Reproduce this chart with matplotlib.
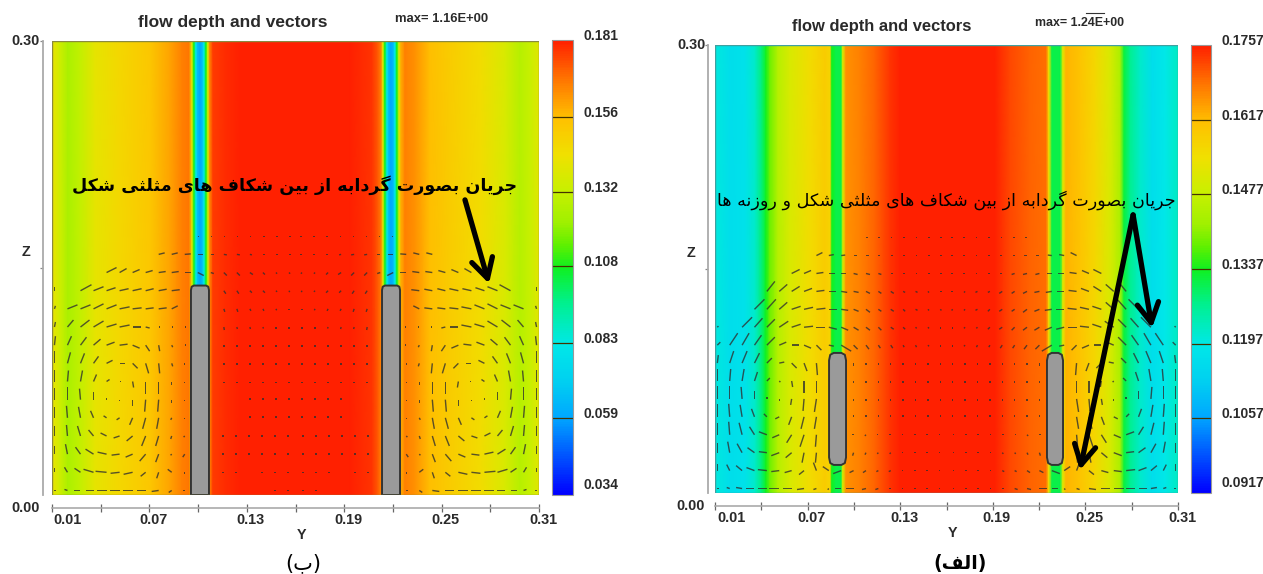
import numpy as np
import matplotlib
matplotlib.use('Agg')
import matplotlib.pyplot as plt
from matplotlib.colors import LinearSegmentedColormap
from matplotlib.patches import Polygon, Rectangle

W_PX, H_PX = 1263, 574

TITLE = 'flow depth and vectors'
X_TICKS = [0.01, 0.04, 0.07, 0.10, 0.13, 0.16, 0.19, 0.22, 0.25, 0.28, 0.31]
X_LABELS = ['0.01', '0.07', '0.13', '0.19', '0.25', '0.31']
X_LABEL_AT = [0.01, 0.07, 0.13, 0.19, 0.25, 0.31]

# depth across the channel (same at every Z)
B_Y = [.0100, .0149, .0199, .0272, .0365, .0519, .0704, .0827, .0901, .0944, .0962, .0975, .0987, .0999,
       .1012, .1024, .1036, .1049, .1061, .1073, .1092, .1166, .1258, .1936, .2071, .2108, .2127, .2139,
       .2151, .2164, .2176, .2188, .2201, .2213, .2225, .2238, .2250, .2275, .2336, .2428, .2552, .2737,
       .2891, .2983, .3045, .3100]
B_DEPTH = [.1428, .1340, .1251, .1310, .1413, .1472, .1531, .1604, .1663, .1678, .1398, .1075, .0825, .0634,
           .0590, .0634, .0825, .1075, .1369, .1663, .1766, .1788, .1810, .1810, .1781, .1722, .1663, .1398,
           .1075, .0825, .0634, .0590, .0634, .0825, .1075, .1369, .1590, .1663, .1634, .1560, .1516, .1457,
           .1369, .1281, .1325, .1398]
B_CBAR = ['0.181', '0.156', '0.132', '0.108', '0.083', '0.059', '0.034']

A_Y = [.0100, .0197, .0294, .0359, .0404, .0430, .0456, .0508, .0586, .0716, .0812, .0845, .0858, .0884,
       .0916, .0929, .0949, .1040, .1137, .1234, .1299, .1914, .2011, .2141, .2245, .2264, .2284, .2336,
       .2355, .2375, .2466, .2563, .2660, .2725, .2751, .2790, .2855, .2933, .3017, .3100]
A_DEPTH = [.1203, .1169, .1177, .1219, .1287, .1337, .1387, .1455, .1505, .1555, .1589, .1572, .1337, .1312,
           .1312, .1505, .1656, .1673, .1698, .1740, .1757, .1757, .1723, .1698, .1690, .1547, .1312, .1312,
           .1522, .1623, .1606, .1564, .1505, .1438, .1320, .1270, .1219, .1169, .1194, .1228]
A_CBAR = ['0.1757', '0.1617', '0.1477', '0.1337', '0.1197', '0.1057', '0.0917']

# vectors, left half of the channel only, top row first (right half is the mirror)
B_U = [
    [0, 0, 0, 0, 0, 0, 0, 0, 0, 0, 0, 1.5, 1.5, 1.5, 1, 1, 1, 1, 1],
    [0, 0, 0, 0, 0, 0, 0, 0, 6, 6, 6, 5, 3, 3, 3, 2, 2, 1, 1],
    [0, 0, 0, 0, 10, 7, 7, 7, 7, 7, 6, 6, 3, 3, 3, 3, 2, 1, 1],
    [0, 0, 11, 10, 9, 9, 9, 8, 8, 8, 0, 0, 0, 2, 2, 2, 2, 1, .5],
    [1, 10, 10, 10, 10, 10, 9, 8, 8, 6, 0, 0, 0, 1, 1, 1, 1, .5, 0],
    [1, 6, 9, 10, 10, 10, 8, 4, 1, 1, 1, 0, 0, .5, .5, .5, .5, 0, 0],
    [1, 4, 6, 7, 8, 8, 7, 4, 1, 1, 1, 0, 0, 0, 0, 0, 0, 0, 0],
    [0, 3, 4, 5, 6, 5, 5, 3, 1, 1, 0, 0, 0, 0, 0, 0, 0, 0, 0],
    [0, 1, 2, 3, 3, 1, 1, 0, 0, 0, 0, 0, 0, 0, 0, 0, 0, 0, 0],
    [0, 0, -1, 0, 0, 0, 0, -1, -1, 0, 0, 0, 0, 0, 0, 0, 0, 0, 0],
    [0, -1, -2, -3, -3, -3, -3, -3, -2, -1, 0, 0, 0, 0, 0, 0, 0, 0, 0],
    [0, -1, -3, -5, -6, -6, -6, -4, -3, -1, -1, 0, 0, -.5, -.5, -.5, -.5, -.5, -.5],
    [0, -2, -5, -8, -9, -8, -7, -6, -3, -1, -2, 0, 0, -1, -1, -.5, -.5, -.5, -.5],
    [0, -3, -6, -10, -11, -9, -9, -5, -2, -4, 0, 0, 0, -1, -.5, 0, -.5, -.5, -.5],
    [1, -3, -6, -8, -10, -10, -10, -9, -7, -3, -1, 0, 0, 0, 0, 0, 0, -.5, -.5],
]
B_W = [
    [0, 0, 0, 0, 0, 0, 0, 0, 0, 0, 0, 0, 0, 0, 0, 0, 0, 0, 0],
    [0, 0, 0, 0, 0, 0, 0, 0, 1.5, 1.5, .5, 0, 0, -.5, -.5, -.5, 0, 0, 0],
    [0, 0, 0, 0, 5, 4, 3, 2, 1, 1, 0, -3, -1, -3, -3, -2, -2, -1, -1],
    [4, 0, 6, 4, 3, 2, 2, 2, 1.5, 1, 0, 0, 0, -3, -3, -2, -2, -1, -1],
    [3, 4, 4, 5, 4, 2, 1, 1, 1, 3, 0, 0, 0, -3, -3, -2, -2, -1, -1],
    [5, 7, 7, 6, 3, 2, 0, -1, 0, 0, 0, 0, 0, -3, -2, -2, -1.5, -1, -1],
    [9, 9, 8, 6, 3, 1, -3, -6, -6, -2, 0, 0, 0, -2, -2, -1, -1, -1, -1],
    [12, 11, 10, 7, 3, 0, -5, -10, -10, -3, -.5, 0, 0, -1, -1, -1, -1, -.5, -.5],
    [12, 11, 11, 7, 2, 0, -6, -12, -12, -3, -.5, 0, 0, -1, -.5, -.5, -.5, -.5, -.5],
    [12, 13, 11, 8, 1, -.5, -6, -12, -12, -3, -.5, 0, 0, 0, 0, .5, .5, .5, .5],
    [11, 12, 11, 7, 2, -2, -7, -11, -11, -2, -.5, 0, 0, 0, 0, .5, .5, .5, .5],
    [10, 11, 10, 6, 3, -2, -5, -10, -10, -3, -1, 0, 0, 0, 0, 0, 0, 0, 0],
    [8, 10, 7, 5, 2, -1, -3, -7, -8, -1, -3, 0, 0, 0, 0, 0, 0, 0, 0],
    [4, 5, 4, 3, 1, -1, -2, -4, -6, 3, -2, 0, 0, 0, 0, 0, 0, 0, 0],
    [0, 1, 0, 0, 0, 0, 0, 0, -1, -2, 0, 0, 0, 0, 0, 0, 0, 0, 0],
]
A_U = [
    [0, 0, 0, 0, 0, 0, 0, 0, 0, 0, 0, 0, 1.5, 1.5, 1.5, 1.5, 1.5, 1, 1],
    [0, 0, 0, 0, 0, 0, 0, 0, 6, 5, 4, 3, 3, 2, 2, 2, 1, 1, 1],
    [0, 0, 0, 0, 0, 0, 8, 7, 7, 6, 5, 4, 4, 3, 2, 2, 1, 1, 1],
    [0, 0, 0, 0, 8, 8, 8, 8, 8, 7, 6, 5, 4, 3, 3, 2, 2, 1, 1],
    [0, 0, 0, 10, 9, 8, 9, 9, 9, 8, 7, 5, 4, 3, 3, 2, 2, 1, 1],
    [1, 0, 10, 8, 8, 9, 9, 9, 9, 8, 7, 5, 4, 3, 3, 2, 1, 1, 0],
    [3, 8, 7, 7, 8, 7, 7, 7, 5, 5, 10, 4, 3, 2, 2, 1, 1, 1, 0],
    [1, 4, 5, 5, 5, 5, 5, 3, 1, 0, 0, 0, 0, 0, 0, 0, 0, 0, 0],
    [0, 1, 2, 3, 3, 1, 1, 0, 0, 0, 0, 0, 0, 0, 0, 0, 0, 0, 0],
    [0, 0, -1, 0, 0, 0, -1, -1, -2, 0, 0, 0, 0, 0, 0, 0, 0, 0, 0],
    [0, -1, -2, -3, -3, -4, -3, -3, -2, 0, 0, 0, 0, 0, 0, 0, 0, 0, 0],
    [0, -1, -3, -5, -8, -7, -5, -4, -1, 0, 0, -.5, -1, -1, -.5, -.5, -.5, -.5, -.5],
    [0, -2, -5, -7, -8, -8, -6, -2, -1, 0, 0, -1, -1, -1, -1, -.5, -.5, -.5, -.5],
    [0, -3, -6, -8, -9, -8, -7, -5, -3, -6, -8, -4, -3, -2, -2, -1, -1, -1, -1],
    [1, -3, -6, -8, -9, -10, -9, -7, -3, -1, -6, -8, -4, -3, -2, -1, -1, -1, -1],
]
A_W = [
    [0, 0, 0, 0, 0, 0, 0, 0, 0, 0, 0, 0, 0, 0, 0, 0, 0, 0, 0],
    [0, 0, 0, 0, 0, 0, 0, 0, 3, 1, .5, 0, 0, 0, 0, 0, 0, 0, 0],
    [0, 0, 0, 0, 0, 0, 4, 3, 1, 0, 0, -1, -1, -1, 0, 0, 0, 0, 0],
    [0, 0, 0, 0, 10, 7, 5, 3, 1, 0, -1, -1, -2, -2, -2, -1, -1, -1, 0],
    [0, 0, 0, 10, 10, 7, 3, 2, 1, 0, -1, -2, -3, -2, -2, -2, -1, -1, -1],
    [1, 0, 10, 9, 8, 6, 3, 1, 0, -2, -3, -3, -3, -3, -2, -2, -1, -1, -1],
    [3, 12, 12, 10, 8, 3, 0, -3, -5, -1, -6, -4, -4, -3, -3, -2, -2, -1, -1],
    [8, 12, 12, 10, 5, 1, -5, -8, -12, 0, 0, -3, -2, -2, -2, -1, -1, -1, -1],
    [12, 12, 12, 9, 3, -1, -6, -12, -12, 0, 0, -1, -1, -1, -1, -1, -1, -.5, -.5],
    [13, 13, 12, 8, 1, -.5, -6, -12, -13, 0, 0, -.5, -.5, -.5, -.5, -.5, -.5, -.5, -.5],
    [13, 13, 12, 8, 3, -2, -8, -12, -12, 0, 0, .5, .5, .5, .5, .5, .5, .5, .5],
    [12, 13, 12, 8, 3, -3, -8, -12, -12, 0, 0, 0, -1, 0, 0, 0, 0, 0, 0],
    [10, 11, 9, 5, 1, -3, -5, -10, -10, 0, 0, -3, -2, -1, -1, 0, 0, 0, 0],
    [7, 6, 5, 3, 1, -1, -2, -4, 8, 4, -3, -2, -2, -1, -1, 0, 0, 0, 0],
    [0, 1, 1, 0, 0, 0, 0, -1, -1, -1, 0, 0, -1, -1, 0, 0, 0, 0, 0],
]

# blocks in the channel: y0, y1, z0, z1
B_PIERS = [(.0956, .1067, 0.0, .1384), (.2133, .2244, 0.0, .1384)]
A_PIERS = [(.0839, .0949, .0188, .0938), (.2251, .2355, .0188, .0938)]

B_NOTE = 'جریان بصورت گردابه از بین شکاف های مثلثی شکل'
A_NOTE = 'جریان بصورت گردابه از بین شکاف های مثلثی شکل و روزنه ها'

# isolated, final, initial, medial
FORMS = {
    'ا': 'ﺍﺎ', 'د': 'ﺩﺪ', 'ر': 'ﺭﺮ', 'ز': 'ﺯﺰ', 'و': 'ﻭﻮ',
    'ب': 'ﺏﺐﺑﺒ', 'ت': 'ﺕﺖﺗﺘ', 'ث': 'ﺙﺚﺛﺜ', 'ج': 'ﺝﺞﺟﺠ',
    'ش': 'ﺵﺶﺷﺸ', 'ص': 'ﺹﺺﺻﺼ', 'ف': 'ﻑﻒﻓﻔ', 'ل': 'ﻝﻞﻟﻠ',
    'م': 'ﻡﻢﻣﻤ', 'ن': 'ﻥﻦﻧﻨ', 'ه': 'ﻩﻪﻫﻬ',
    'ک': '\ufb8e\ufb8f\ufb90\ufb91', 'گ': '\ufb92\ufb93\ufb94\ufb95', 'ی': '\ufbfc\ufbfd\ufbfe\ufbff',
}


def shape(text):
    # matplotlib does no arabic shaping, so pick the joined glyphs and reverse
    out = []
    for i, ch in enumerate(text):
        if ch not in FORMS:
            out.append(ch)
            continue
        prev = text[i - 1] if i > 0 else ' '
        nxt = text[i + 1] if i + 1 < len(text) else ' '
        joins_prev = prev in FORMS and len(FORMS[prev]) == 4
        joins_next = nxt in FORMS and len(FORMS[ch]) == 4
        if joins_prev and joins_next:
            out.append(FORMS[ch][3])
        elif joins_prev:
            out.append(FORMS[ch][1])
        elif joins_next:
            out.append(FORMS[ch][2])
        else:
            out.append(FORMS[ch][0])
    return ''.join(reversed(out))


plt.rcParams['font.family'] = 'Liberation Sans'
plt.rcParams['font.weight'] = 'bold'
plt.rcParams['text.color'] = '#2a2a2a'

rainbow = LinearSegmentedColormap.from_list('rainbow_depth', [
    (0, '#0000ff'), (.17, '#00a8ff'), (.25, '#00d0f0'), (.33, '#00e8e8'), (.42, '#00f090'), (.5, '#10f020'),
    (.55, '#60f000'), (.6, '#a0f000'), (.67, '#c8f000'), (.75, '#f0e000'), (.83, '#ffc000'), (.92, '#ff7000'),
    (1, '#ff2000')])

fig = plt.figure(figsize=(W_PX / 100, H_PX / 100), dpi=100)


def px_axes(left, top, right, bottom):
    return fig.add_axes([left / W_PX, 1 - bottom / H_PX, (right - left) / W_PX, (bottom - top) / H_PX])


def pier_outline(y0, y1, z0, z1, round_bottom):
    dy, dz = (.003, .005) if round_bottom else (.0018, .003)
    a, b = .25 * dy, .25 * dz
    pts = [(y0, z1 - dz), (y0 + a, z1 - b), (y0 + dy, z1), (y1 - dy, z1), (y1 - a, z1 - b), (y1, z1 - dz)]
    if round_bottom:
        pts += [(y1, z0 + dz), (y1 - a, z0 + b), (y1 - dy, z0), (y0 + dy, z0), (y0 + a, z0 + b), (y0, z0 + dz)]
    else:
        pts += [(y1, z0), (y0, z0)]
    return pts


def panel(box, cbar_box, y, depth, cbar_labels, u, w, piers, spine_px, edge, round_bottom):
    ax = px_axes(*box)
    vals = [float(s) for s in cbar_labels]
    vmin, vmax = vals[-1], vals[0]
    mesh = ax.pcolormesh(y, [0, .3], np.tile(depth, (2, 1)), shading='gouraud', cmap=rainbow, vmin=vmin, vmax=vmax)
    ax.set_xlim(.01, .31)
    ax.set_ylim(0, .3)

    # mirror the half field onto the right half
    u = np.array(u, dtype=float)
    w = np.array(w, dtype=float)
    u = np.hstack([u, -u[:, ::-1]])
    w = np.hstack([w, w[:, ::-1]])
    col_y = np.linspace(.0115, .3085, u.shape[1])
    row_z = np.linspace(.171, .003, u.shape[0])
    yy, zz = np.meshgrid(col_y, row_z)
    keep = (u != 0) | (w != 0)
    # the smallest vectors still show as dots
    size = np.hypot(u[keep], w[keep])
    boost = np.maximum(1.6 / size, 1)
    ax.quiver(yy[keep], zz[keep], u[keep] * boost, w[keep] * boost, angles='uv', scale_units='dots', scale=1,
              units='dots', width=1.4, headwidth=1, headlength=0, headaxislength=0, minlength=0, pivot='tail',
              color='#303030', alpha=.8, zorder=2)

    for y0, y1, z0, z1 in piers:
        ax.add_patch(Polygon(pier_outline(y0, y1, z0, z1, round_bottom), closed=True, fc='#9a9a9a', ec='#333333',
                             lw=1.4, joinstyle='round', zorder=3))
    ax.add_patch(Rectangle((0, 0), 1, 1, transform=ax.transAxes, fill=False, ec=edge, lw=1, zorder=4))

    for name in ['top', 'right']:
        ax.spines[name].set_visible(False)
    ax.spines['left'].set_position(('outward', spine_px * .72))
    ax.spines['bottom'].set_position(('outward', 13 * .72))
    ax.spines['left'].set_color('#aaaaaa')
    ax.spines['bottom'].set_color('#aaaaaa')
    ax.spines['left'].set_linewidth(1.3)
    ax.spines['bottom'].set_linewidth(1.2)
    ax.set_xticks(X_TICKS)
    ax.set_yticks([.15, .30])
    ax.tick_params(axis='x', direction='inout', length=6, width=.9, color='#666666', labelbottom=False)
    ax.tick_params(axis='y', direction='out', length=2, width=.9, color='#888888', labelleft=False)

    lbl = dict(xycoords=('data', 'axes fraction'), textcoords='offset pixels', ha='center', va='center', fontsize=10.4)
    for k, (txt, at) in enumerate(zip(X_LABELS, X_LABEL_AT)):
        ax.annotate(txt, xy=(at, 0), xytext=(16 if k == 0 else 4, -25), **lbl)
    ax.annotate('Y', xy=(.16, 0), xytext=(6, -40), **lbl)
    side = dict(xycoords=('axes fraction', 'data'), textcoords='offset pixels', ha='center', va='center', fontsize=10.4)
    ax.annotate('0.30', xy=(0, .3), xytext=(-spine_px - 17, 0), **side)
    ax.annotate('0.00', xy=(0, 0), xytext=(-spine_px - 17, -13), **side)
    ax.annotate('Z', xy=(0, .15), xytext=(-spine_px - 17, 16), **side)

    cax = px_axes(*cbar_box)
    cbar = fig.colorbar(mesh, cax=cax)
    cbar.set_ticks([])
    cbar.outline.set_edgecolor('#999999')
    cbar.outline.set_linewidth(.8)
    cax.hlines(vals[1:-1], 0, 1, transform=cax.get_yaxis_transform(), color='#443300', lw=.9)
    for k, (txt, v) in enumerate(zip(cbar_labels, vals)):
        cax.annotate(txt, xy=(1, v), xycoords=('axes fraction', 'data'), xytext=(10, 10 if k == len(vals) - 1 else 4),
                     textcoords='offset pixels', ha='left', va='center', fontsize=10)
    return ax


ax_b = panel((52, 41, 539, 495), (552, 40, 573, 495), B_Y, B_DEPTH, B_CBAR, B_U, B_W, B_PIERS, 9, '#8a8a40', False)
ax_a = panel((715, 45, 1178, 493), (1191, 45, 1211, 493), A_Y, A_DEPTH, A_CBAR, A_U, A_W, A_PIERS, 7, '#40a0a0', True)

ax_b.annotate(TITLE, xy=(232.5 / W_PX, 1 - 22 / H_PX), xycoords='figure fraction', ha='center', va='center', fontsize=12.5)
ax_a.annotate(TITLE, xy=(882 / W_PX, 1 - 26 / H_PX), xycoords='figure fraction', ha='center', va='center', fontsize=11.9)
ax_b.annotate('max= 1.16E+00', xy=(395 / W_PX, 1 - 19 / H_PX), xycoords='figure fraction', va='center', fontsize=9.4)
ax_a.annotate('max= 1.24E+00', xy=(1035 / W_PX, 1 - 23 / H_PX), xycoords='figure fraction', va='center', fontsize=8.9)
fig.add_artist(plt.Line2D([1086 / W_PX, 1104 / W_PX], [1 - 13 / H_PX] * 2, color='#333333', lw=.8))

ax_b.text(.1597, .205, shape(B_NOTE), family='DejaVu Sans', weight='bold', color='black', fontsize=12.6, ha='center', va='center', zorder=6)
ax_a.text(.1597, .1963, shape(A_NOTE), family='DejaVu Sans', weight='normal', color='black', fontsize=12.6, ha='center', va='center', zorder=6)

head = dict(arrowstyle='->,head_length=1,head_width=.55', color='black', lw=3.8, shrinkA=0, shrinkB=0, mutation_scale=14)
ax_b.annotate('', xy=(.2792, .1397), xytext=(.2644, .195), arrowprops=head, zorder=6)
ax_a.annotate('', xy=(.2932, .1105), xytext=(.2809, .1862), arrowprops=head, zorder=6)
ax_a.annotate('', xy=(.2465, .0154), xytext=(.2809, .1862), arrowprops=head, zorder=6)

fig.text(303 / W_PX, 1 - 563 / H_PX, '(' + shape('ب') + ')', family='DejaVu Sans', weight='normal', color='black', fontsize=15, ha='center', va='center')
fig.text(960 / W_PX, 1 - 563 / H_PX, '(' + shape('الف') + ')', family='DejaVu Sans', weight='bold', color='black', fontsize=13.6, ha='center', va='center')

fig.savefig('out.png', dpi=100)
